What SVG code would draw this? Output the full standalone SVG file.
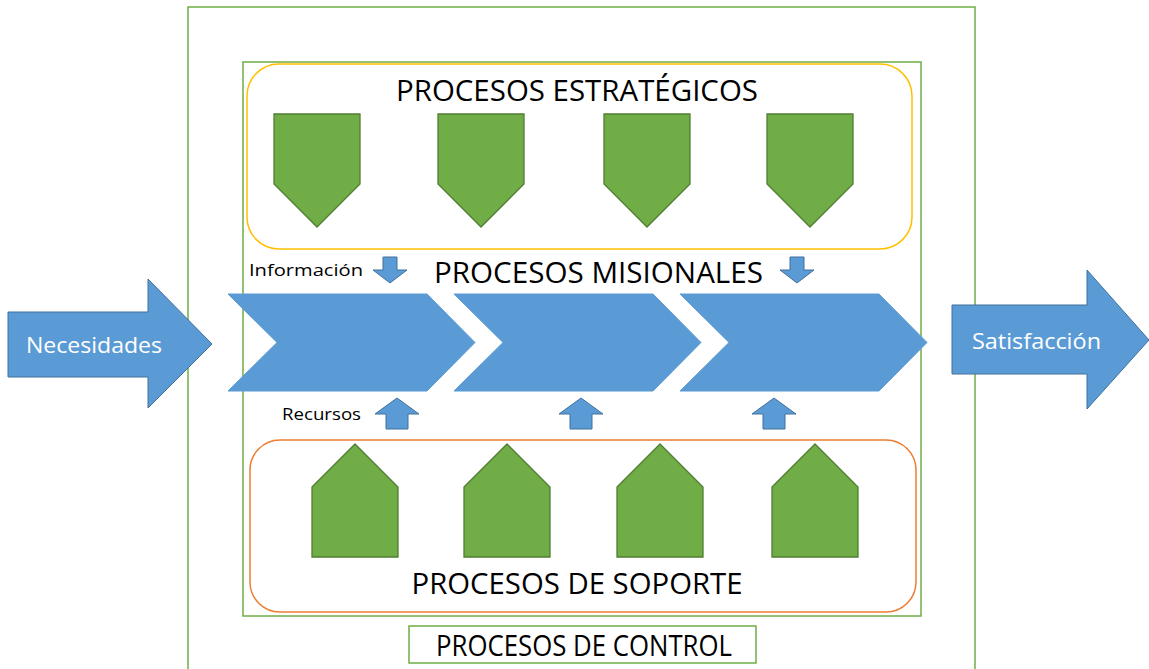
<svg xmlns="http://www.w3.org/2000/svg" width="1149" height="669" viewBox="0 0 1149 669">
<style>
.frame{fill:none;stroke:#70AD47;stroke-width:1.5}
.blue{fill:#5B9BD5;stroke:#41719C;stroke-width:1}
.chev{fill:#5B9BD5;stroke:#5B9BD5;stroke-width:1}
.green{fill:#70AD47;stroke:#507E32;stroke-width:1.3}
.big{font-family:"Open Sans","Liberation Sans",Arial,sans-serif;font-size:29px;fill:#000;text-anchor:middle}
.small{font-family:"Open Sans","Liberation Sans",Arial,sans-serif;font-size:17px;fill:#000}
.white{font-family:"Open Sans","Liberation Sans",Arial,sans-serif;font-size:22px;fill:#fff}
</style>
<defs>
<path id="pdown" d="M0,0 H86 V70 L43,113 L0,70 Z"/>
<path id="pup" d="M0,43 L43,0 L86,43 V113 H0 Z"/>
<path id="chevron" d="M0,0 L199,0 L247,48.5 L199,97 L0,97 L49,48.5 Z"/>
<path id="adown" d="M-7,0 H7 V13 H17 L0,26 L-17,13 H-7 Z"/>
<path id="aup" d="M0,0 L22,16 H11 V31 H-11 V16 H-22 Z"/>
</defs>
<rect width="1149" height="669" fill="#fff"/>
<g id="control-frame">
<rect class="frame" x="188" y="7" width="787" height="700"/>
</g>
<g id="inner-frame">
<rect class="frame" x="243" y="62" width="678" height="554"/>
</g>
<g id="estrategicos">
<rect x="247" y="64" width="665" height="185" rx="32" fill="none" stroke="#FFC000" stroke-width="1.5"/>
<text class="big" x="577" y="101" textLength="362" lengthAdjust="spacingAndGlyphs">PROCESOS ESTRATÉGICOS</text>
<use href="#pdown" class="green" x="274" y="114"/>
<use href="#pdown" class="green" x="438" y="114"/>
<use href="#pdown" class="green" x="604" y="114"/>
<use href="#pdown" class="green" x="767" y="114"/>
</g>
<g id="soporte">
<rect x="250" y="440" width="666" height="172" rx="30" fill="none" stroke="#ED7D31" stroke-width="1.5"/>
<use href="#pup" class="green" x="312" y="444"/>
<use href="#pup" class="green" x="464" y="444"/>
<use href="#pup" class="green" x="617" y="444"/>
<use href="#pup" class="green" x="772" y="444"/>
<text class="big" x="577" y="594" textLength="331" lengthAdjust="spacingAndGlyphs">PROCESOS DE SOPORTE</text>
</g>
<g id="control-label">
<rect x="409" y="626" width="347" height="37" fill="#fff" stroke="#70AD47" stroke-width="1.5"/>
<text class="big" x="584" y="656" textLength="296" lengthAdjust="spacingAndGlyphs">PROCESOS DE CONTROL</text>
</g>
<g id="misionales">
<text class="big" x="598.5" y="283" textLength="329" lengthAdjust="spacingAndGlyphs">PROCESOS MISIONALES</text>
<use href="#chevron" class="chev" x="228" y="294"/>
<use href="#chevron" class="chev" x="454" y="294"/>
<use href="#chevron" class="chev" x="680" y="294"/>
</g>
<g id="necesidades">
<path class="blue" d="M8,312 H148 V279 L212,344 L148,408 V377 H8 Z"/>
<text class="white" x="26" y="353" textLength="136" lengthAdjust="spacingAndGlyphs">Necesidades</text>
</g>
<g id="satisfaccion">
<path class="blue" d="M952,305 H1087 V270 L1149,340 L1087,409 V374 H952 Z"/>
<text class="white" x="972" y="349" textLength="129" lengthAdjust="spacingAndGlyphs">Satisfacción</text>
</g>
<g id="connectors">
<text class="small" x="249" y="276" textLength="114" lengthAdjust="spacingAndGlyphs">Información</text>
<use href="#adown" class="blue" x="390" y="257"/>
<use href="#adown" class="blue" x="797" y="257"/>
<text class="small" x="282" y="420" textLength="79" lengthAdjust="spacingAndGlyphs">Recursos</text>
<use href="#aup" class="blue" x="397" y="398"/>
<use href="#aup" class="blue" x="581" y="398"/>
<use href="#aup" class="blue" x="774" y="398"/>
</g>
</svg>
